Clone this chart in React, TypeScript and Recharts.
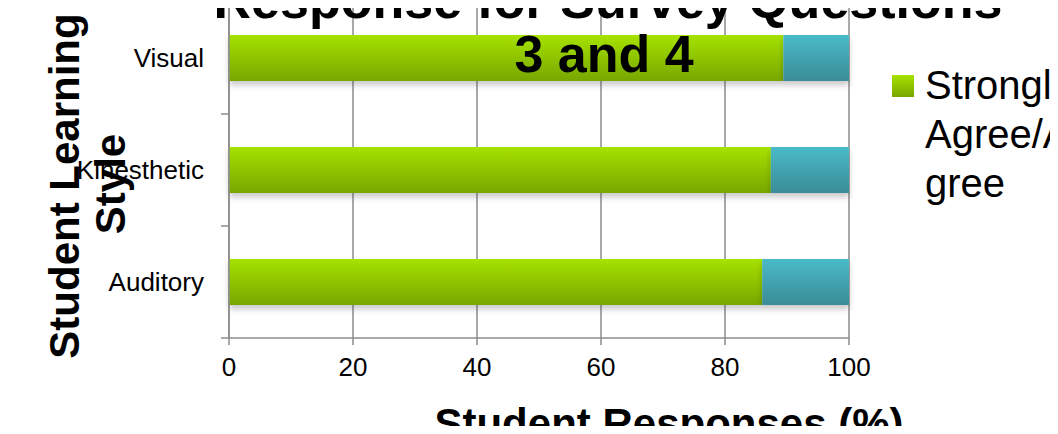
import { Bar, BarChart, CartesianGrid, XAxis, YAxis } from "recharts";

const styles = ["Visual", "Kinesthetic", "Auditory"];
const agree = [89.4, 87.4, 86.0];
const disagree = [10.6, 12.6, 14.0];
const xTicks = [0, 20, 40, 60, 80, 100];

// note: don't call the key "style", recharts spreads row fields onto the rects
const data = styles.map((s, i) => ({ learner: s, agree: agree[i], disagree: disagree[i] }));

const FONT = "'Liberation Sans', Arial, sans-serif";
const GREY = "#8c8c8c";
const TICK_SIZE = 8;
const TICK_MARGIN = 17;

// category labels plus Excel-style ticks on the band edges
function LearnerTick(props: any) {
  const { x, y, payload, index, visibleTicksCount, height } = props;
  const band = Number(height) / visibleTicksCount;
  const x1 = x + TICK_MARGIN;
  const x2 = x1 + TICK_SIZE;
  return (
    <g>
      <text x={x} y={y} dy="0.35em" textAnchor="end" fontSize={26} fontFamily={FONT} fill="#000">
        {payload.value}
      </text>
      {Number.isFinite(band) && (
        <>
          <line x1={x1} x2={x2} y1={y + band / 2} y2={y + band / 2} stroke={GREY} strokeWidth={1.5} />
          {index === 0 && <line x1={x1} x2={x2} y1={y - band / 2} y2={y - band / 2} stroke={GREY} strokeWidth={1.5} />}
        </>
      )}
    </g>
  );
}

export default function App() {
  return (
    <div style={{ position: "relative", width: 1058, height: 434, margin: -8, overflow: "hidden", background: "#fff" }}>
      <BarChart
        layout="vertical"
        width={1058}
        height={434}
        data={data}
        margin={{ top: 2, right: 209, bottom: 0, left: 0 }}
        barCategoryGap="29.5%"
      >
        <defs>
          <linearGradient id="green" x1="0" y1="0" x2="0" y2="1">
            <stop offset="0%" stopColor="#a6e200" />
            <stop offset="100%" stopColor="#77a600" />
          </linearGradient>
          <linearGradient id="blue" x1="0" y1="0" x2="0" y2="1">
            <stop offset="0%" stopColor="#4abac8" />
            <stop offset="100%" stopColor="#3a8c96" />
          </linearGradient>
          <filter id="shadow" x="-5%" y="-20%" width="110%" height="160%">
            <feDropShadow dx="0" dy="4" stdDeviation="3" floodColor="#000" floodOpacity="0.22" />
          </filter>
        </defs>
        <CartesianGrid horizontal={false} stroke={GREY} strokeWidth={1.5} />
        <XAxis
          type="number"
          domain={[0, 100]}
          ticks={xTicks}
          height={96}
          stroke={GREY}
          strokeWidth={1.5}
          tickSize={7}
          tickMargin={13}
          tick={{ fontSize: 26, fontFamily: FONT, fill: "#000" }}
        />
        <YAxis
          type="category"
          dataKey="learner"
          width={229}
          stroke={GREY}
          strokeWidth={1.5}
          tickLine={false}
          tickSize={TICK_SIZE}
          tickMargin={TICK_MARGIN}
          tick={<LearnerTick />}
        />
        <Bar dataKey="agree" name="Strongly Agree/Agree" stackId="a" fill="url(#green)" filter="url(#shadow)" isAnimationActive={false} />
        <Bar dataKey="disagree" name="Strongly Disagree/Disagree" stackId="a" fill="url(#blue)" filter="url(#shadow)" isAnimationActive={false} />
      </BarChart>

      <svg width={1058} height={434} style={{ position: "absolute", left: 0, top: 0, pointerEvents: "none" }}>
        <g fontFamily={FONT} fontWeight="bold" fill="#000">
          <text x={608} y={18} textAnchor="middle" fontSize={52}>Response for Survey Questions</text>
          <text x={604} y={72} textAnchor="middle" fontSize={52}>3 and 4</text>
          <text transform="translate(79,186) rotate(-90)" textAnchor="middle" fontSize={42}>Student Learning</text>
          <text transform="translate(125,184) rotate(-90)" textAnchor="middle" fontSize={42}>Style</text>
          <text x={669} y={438} textAnchor="middle" fontSize={42}>Student Responses (%)</text>
        </g>
        <rect x={892} y={75} width={22} height={22} fill="url(#green)" />
        <g fontFamily={FONT} fontSize={40} fill="#000">
          <text x={925} y={99}>Strongly</text>
          <text x={925} y={148}>Agree/A</text>
          <text x={925} y={197}>gree</text>
        </g>
      </svg>
    </div>
  );
}
